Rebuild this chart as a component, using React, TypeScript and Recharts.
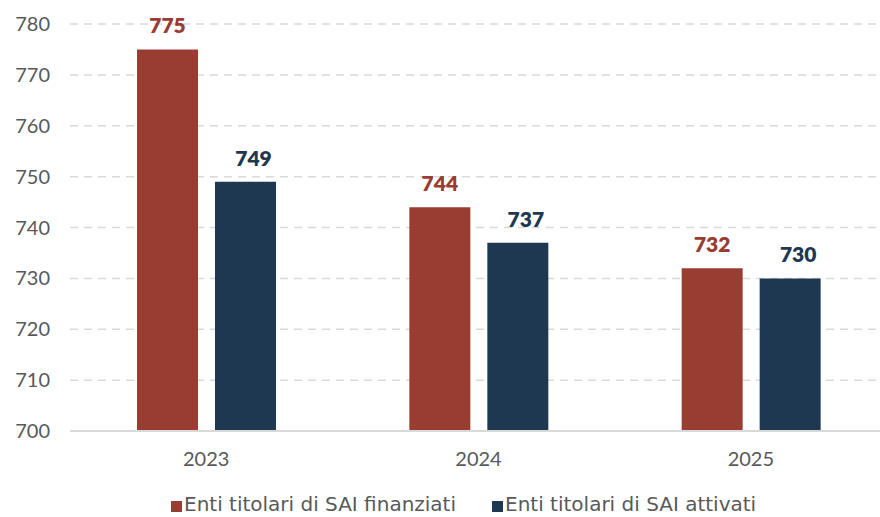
import React from 'react';
import { BarChart, Bar, XAxis, YAxis, CartesianGrid, Legend, LabelList } from 'recharts';

const categories = ['2023', '2024', '2025'];
const finanziati = [775, 744, 732];
const attivati = [749, 737, 730];
const yTicks = [700, 710, 720, 730, 740, 750, 760, 770, 780];

const seriesNames = ['Enti titolari di SAI finanziati', 'Enti titolari di SAI attivati'];
const RED = '#993C32';
const BLUE = '#1F3852';
const TEXT = '#595959';
const FONT = 'Lato, "DejaVu Sans", sans-serif';
const LEGEND_FONT = '"DejaVu Sans", sans-serif';

const data = categories.map((c, i) => ({ year: c, finanziati: finanziati[i], attivati: attivati[i] }));

const makeLabel = (color: string, dx: number) => (props: any) => {
  const { x, y, width, value } = props;
  return (
    <text
      x={Number(x) + Number(width) / 2 + dx}
      y={Number(y) - 16}
      textAnchor="middle"
      fill={color}
      fontFamily={FONT}
      fontWeight={800}
      fontSize={21}
    >
      {value}
    </text>
  );
};

const LegendContent = () => (
  <div style={{ display: 'flex', flexDirection: 'row', fontFamily: LEGEND_FONT, fontSize: 20, lineHeight: '20px', height: 20, color: TEXT, paddingLeft: 171, whiteSpace: 'nowrap' }}>
    {[RED, BLUE].map((c, i) => (
      <div key={i} style={{ display: 'flex', alignItems: 'center', marginRight: 36 }}>
        <span style={{ display: 'inline-block', width: 11, height: 11, background: c, marginRight: 2, marginTop: 4 }} />
        <span>{seriesNames[i]}</span>
      </div>
    ))}
  </div>
);

export default function App() {
  return (
    <div style={{ position: 'absolute', top: 0, left: 0, width: 880, height: 517, overflow: 'hidden', background: '#fff' }}>
      <BarChart
        width={887}
        height={517}
        data={data}
        margin={{ top: 24, right: 0, bottom: 0, left: 0 }}
        barSize={61}
        barGap={17}
      >
        <CartesianGrid vertical={false} stroke="#D9D9D9" strokeDasharray="8 6" strokeWidth={1.5} />
        <XAxis
          dataKey="year"
          height={66}
          tickSize={0}
          tickMargin={21}
          axisLine={{ stroke: '#D9D9D9', strokeWidth: 2 }}
          tick={{ fill: TEXT, fontSize: 20, fontFamily: FONT }}
        />
        <YAxis
          width={70}
          domain={[700, 780]}
          ticks={yTicks}
          tickSize={0}
          tickMargin={20}
          axisLine={false}
          tick={{ fill: TEXT, fontSize: 20, fontFamily: FONT }}
        />
        <Legend
          verticalAlign="bottom"
          align="left"
          height={20}
          wrapperStyle={{ top: 494, left: 0, bottom: 'auto', height: 20 }}
          content={<LegendContent />}
        />
        <Bar dataKey="finanziati" name={seriesNames[0]} fill={RED} isAnimationActive={false}>
          <LabelList dataKey="finanziati" content={makeLabel(RED, 0)} />
        </Bar>
        <Bar dataKey="attivati" name={seriesNames[1]} fill={BLUE} isAnimationActive={false}>
          <LabelList dataKey="attivati" content={makeLabel(BLUE, 8)} />
        </Bar>
      </BarChart>
    </div>
  );
}
